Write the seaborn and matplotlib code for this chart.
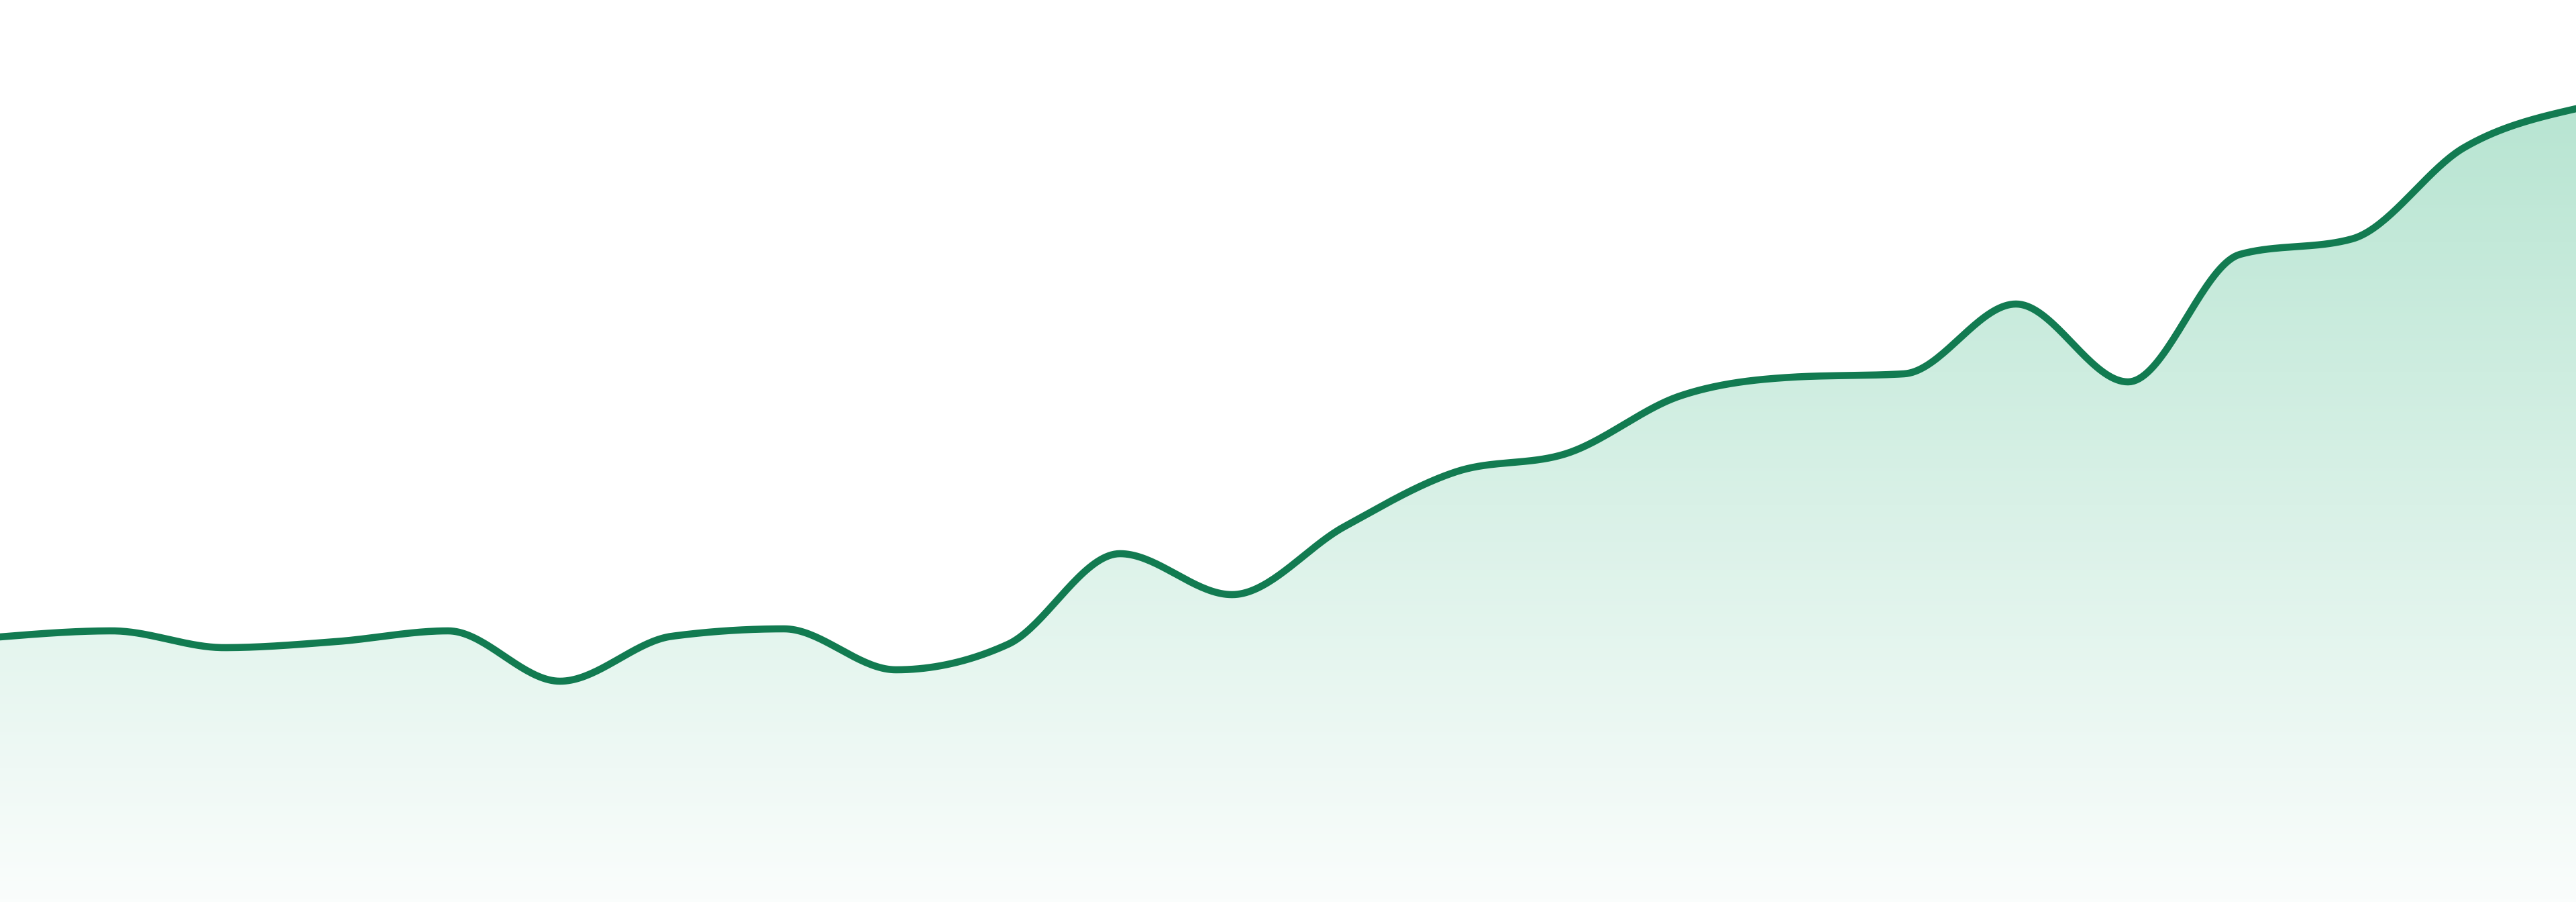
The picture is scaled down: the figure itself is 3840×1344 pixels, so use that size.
import numpy as np
import pandas as pd
import matplotlib
matplotlib.use("Agg")
import matplotlib.pyplot as plt
from matplotlib.colors import LinearSegmentedColormap
import seaborn as sns

# series values (24 evenly spaced samples)
step = list(range(24))
value = [39.5, 40.4, 37.9, 38.8, 40.4, 32.9, 39.6, 40.7, 34.6, 38.4,
         51.9, 45.8, 55.9, 64.1, 66.9, 75.4, 78.2, 78.7, 89.1, 77.5,
         96.5, 98.8, 112.4, 118.2]

line_color = "#127b51"
fill_top = "#b8e5d2"
fill_bottom = "#fafdfc"


def monotone_curve(x, y, n=40):
    # monotone cubic (like d3 curveMonotoneX) for drawing the smooth line
    x = np.asarray(x, float)
    y = np.asarray(y, float)
    h = np.diff(x)
    s = np.diff(y) / h
    t = np.zeros(len(x))
    for i in range(1, len(x) - 1):
        p = (s[i - 1] * h[i] + s[i] * h[i - 1]) / (h[i - 1] + h[i])
        t[i] = (np.sign(s[i - 1]) + np.sign(s[i])) * min(abs(s[i - 1]), abs(s[i]), 0.5 * abs(p))
    t[0] = (3 * s[0] - t[1]) / 2
    t[-1] = (3 * s[-1] - t[-2]) / 2
    xs, ys = [], []
    for i in range(len(x) - 1):
        u = np.linspace(0, 1, n, endpoint=(i == len(x) - 2))
        h00 = 2 * u**3 - 3 * u**2 + 1
        h10 = u**3 - 2 * u**2 + u
        h01 = -2 * u**3 + 3 * u**2
        h11 = u**3 - u**2
        xs.append(x[i] + u * h[i])
        ys.append(h00 * y[i] + h10 * h[i] * t[i] + h01 * y[i + 1] + h11 * h[i] * t[i + 1])
    return np.concatenate(xs), np.concatenate(ys)


sns.set_theme(style="white")

cx, cy = monotone_curve(step, value)
df = pd.DataFrame({"step": cx, "value": cy})

fig = plt.figure(figsize=(38.4, 13.44), dpi=100)
ax = fig.add_axes([0, 0, 1, 1])
ax.set_xlim(0, 23)
ax.set_ylim(0, 134.4)

# gradient area under the line
poly = ax.fill_between(df["step"], df["value"], 0, color="none", lw=0)
cmap = LinearSegmentedColormap.from_list("g", [fill_bottom, fill_top])
top = max(value)
grad = np.linspace(0, 1, 256).reshape(-1, 1)
img = ax.imshow(grad, cmap=cmap, origin="lower", aspect="auto",
                extent=[0, 23, 0, top], zorder=1)
img.set_clip_path(poly.get_paths()[0], transform=ax.transData)

sns.lineplot(data=df, x="step", y="value", color=line_color, linewidth=7.6,
             ax=ax, zorder=3, sort=False)
ax.lines[-1].set_solid_capstyle("round")

ax.set_axis_off()
fig.savefig("out.png", dpi=100, facecolor="white")
